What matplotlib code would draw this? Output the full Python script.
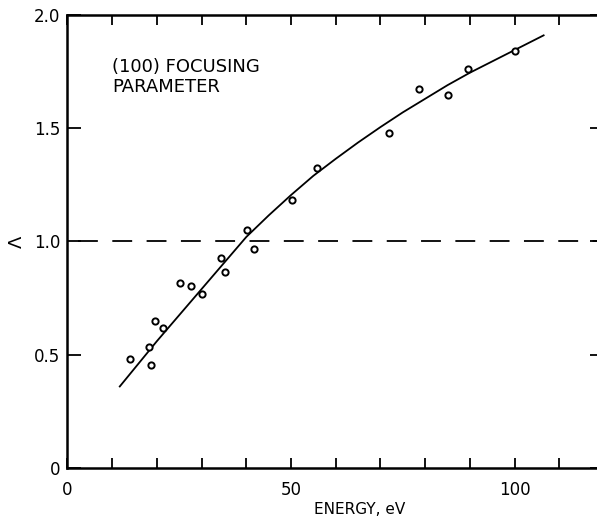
import numpy as np
import matplotlib
matplotlib.use('Agg')
import matplotlib.pyplot as plt
from matplotlib.ticker import MultipleLocator

# measured focusing parameter vs electron energy
energy = [14.0, 18.6, 18.3, 19.6, 21.3, 25.1, 27.6, 30.2, 34.3, 35.2,
          40.2, 41.7, 50.3, 55.9, 72.0, 78.7, 85.1, 89.5, 100.0]
lam = [0.48, 0.455, 0.535, 0.65, 0.62, 0.815, 0.805, 0.77, 0.925, 0.865,
       1.05, 0.965, 1.185, 1.325, 1.48, 1.675, 1.645, 1.76, 1.84]

# hand-drawn trend line through the data
curve_e = [11.7, 20, 30, 40, 45, 50, 55, 60, 65, 70, 75, 80, 85, 90, 95, 100, 106.5]
curve_l = [0.36, 0.56, 0.79, 1.02, 1.115, 1.205, 1.29, 1.365, 1.437, 1.505,
           1.57, 1.63, 1.69, 1.745, 1.795, 1.845, 1.91]

fig = plt.figure(figsize=(5.97, 5.16), dpi=100)
ax = fig.add_axes([0.113, 0.093, 0.8987, 0.878])

ax.plot(curve_e, curve_l, color='black', lw=1.3)
ax.plot(energy, lam, 'o', ms=4.5, mfc='white', mec='black', mew=1.4)
ax.axhline(1.0, xmin=0.02, color='black', lw=1.3, dashes=(11, 8))

ax.set_xlim(0, 120)
ax.set_ylim(0, 2.0)

ax.xaxis.set_minor_locator(MultipleLocator(10))
ax.set_xticks([0, 50, 100])
ax.set_xticklabels(['0', '50', '100'])
ax.set_yticks([0, 0.5, 1.0, 1.5, 2.0])
ax.set_yticklabels(['0', '0.5', '1.0', '1.5', '2.0'])

ax.tick_params(axis='x', which='both', direction='in', length=7, width=1.3,
               top=True, labelsize=12, pad=9)
ax.tick_params(axis='y', which='major', direction='in', length=10, width=1.3,
               right=True, labelsize=12, pad=5)
for sp in ax.spines.values():
    sp.set_linewidth(1.8)

ax.set_xlabel('ENERGY, eV', fontsize=11)
ax.xaxis.set_label_coords(0.545, -0.075)
ax.set_ylabel('Λ', fontsize=13, rotation=90, labelpad=6)

ax.text(10, 1.81, '(100) FOCUSING\nPARAMETER', fontsize=13,
        ha='left', va='top', linespacing=1.15)

fig.savefig('out.png', dpi=100)
